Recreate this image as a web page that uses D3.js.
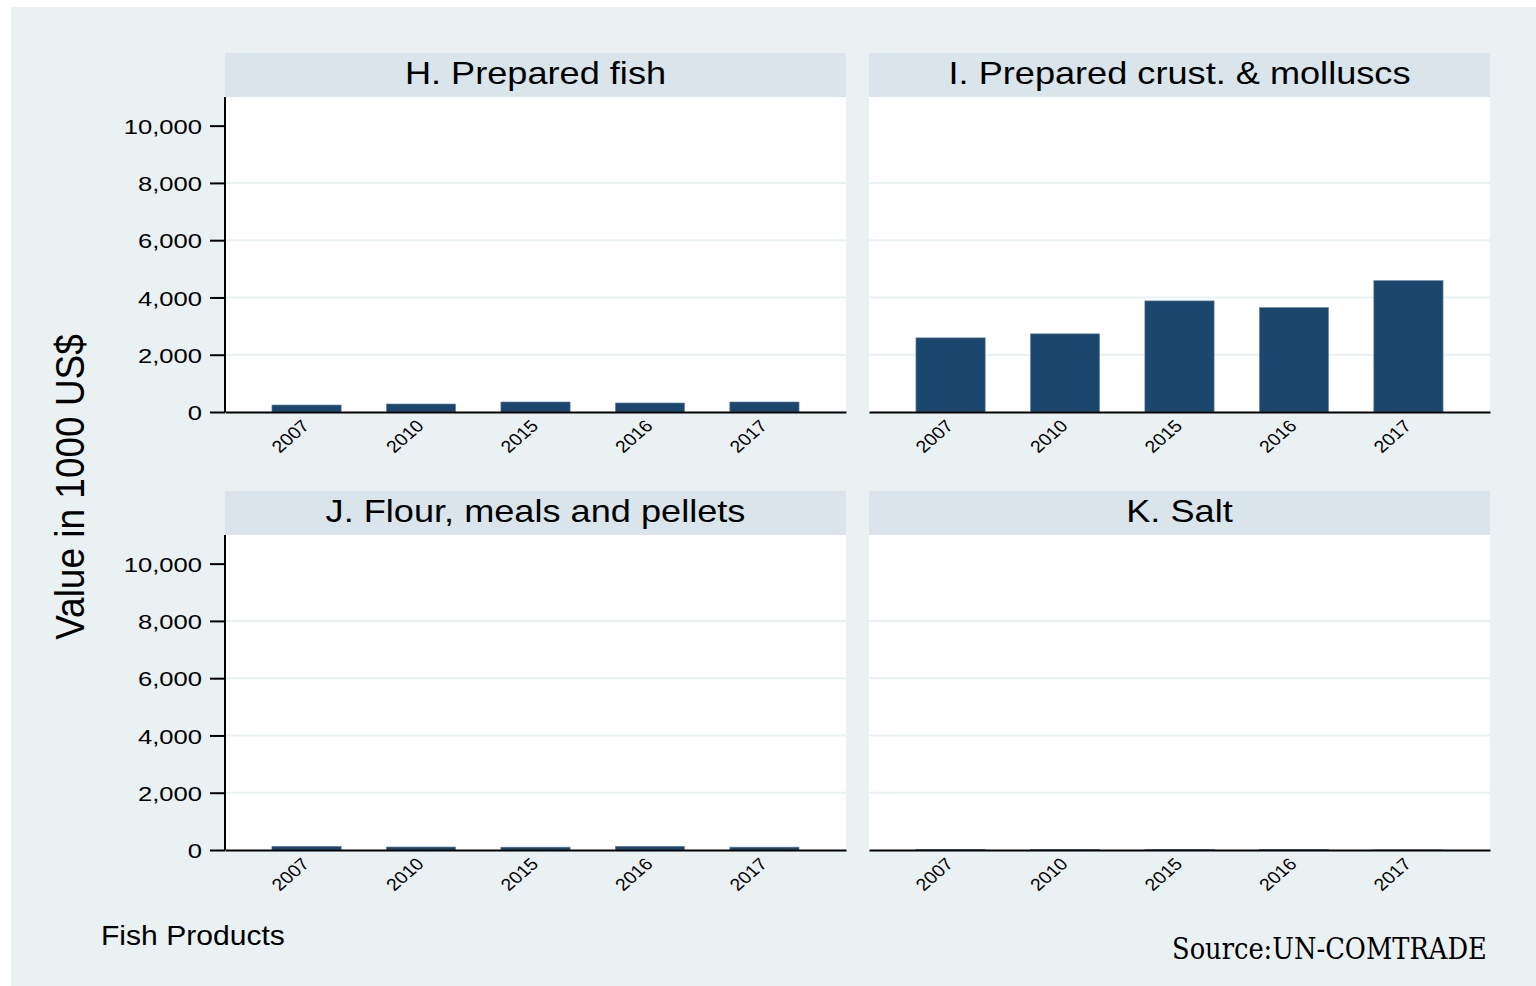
<!DOCTYPE html>
<html><head><meta charset="utf-8">
<script src="https://cdn.jsdelivr.net/npm/d3@7"></script>
<style>html,body{margin:0;padding:0;background:#fff;}svg{display:block;}</style>
</head><body>
<script>
const years = ["2007", "2010", "2015", "2016", "2017"];
const panelTitles = ["H. Prepared fish", "I. Prepared crust. & molluscs", "J. Flour, meals and pellets", "K. Salt"];
const valuesH = [245, 280, 350, 315, 350];
const valuesI = [2590, 2730, 3880, 3650, 4590];
const valuesJ = [130, 105, 100, 130, 100];
const valuesK = [25, 20, 25, 20, 5];
const yTicks = [0, 2000, 4000, 6000, 8000, 10000];
const yTitle = "Value in 1000 US$";
const noteText = "Fish Products";
const sourceText = "Source:UN-COMTRADE";

const panelValues = [valuesH, valuesI, valuesJ, valuesK];

const W = 1536, H = 986;
const svg = d3.select("body").append("svg").attr("width", W).attr("height", H);
svg.append("rect").attr("x", 11).attr("y", 7).attr("width", W - 11).attr("height", H - 7).attr("fill", "#eaf1f3");

const colX = [225, 869], plotW = 621;
const stripTop = [53, 491], stripH = 44, plotH = 315;
const navy = "#1b476f";
const font = "'Liberation Sans', Arial, sans-serif";

const y = d3.scaleLinear().domain([0, 11000]).range([plotH, 0]);
const x = d3.scaleBand().domain(years).range([0, plotW]).paddingInner(0.395).paddingOuter(0.41);

panelValues.forEach((vals, i) => {
  const col = i % 2, row = Math.floor(i / 2);
  const px = colX[col], sy = stripTop[row], py = sy + stripH;
  const g = svg.append("g").attr("transform", `translate(${px},${py})`);
  // strip
  svg.append("rect").attr("x", px).attr("y", sy).attr("width", plotW).attr("height", stripH).attr("fill", "#d9e5eb");
  const cx = px + plotW / 2;
  svg.append("text").attr("x", 0).attr("y", 0).attr("text-anchor", "middle")
    .attr("font-family", font).attr("font-size", 32).attr("fill", "#000")
    .attr("transform", `translate(${cx},${sy + 31}) scale(1.13,1)`)
    .text(panelTitles[i]);
  // plot region
  g.append("rect").attr("width", plotW).attr("height", plotH).attr("fill", "#fff");
  // gridlines
  g.selectAll(".grid").data(yTicks.filter(t => t > 0 && t < 10000)).enter().append("line")
    .attr("x1", 0).attr("x2", plotW).attr("y1", d => y(d)).attr("y2", d => y(d))
    .attr("stroke", "#eaf1f3").attr("stroke-width", 2);
  // bars
  g.selectAll(".bar").data(vals).enter().append("rect")
    .attr("x", (d, j) => x(years[j])).attr("width", x.bandwidth())
    .attr("y", d => y(d)).attr("height", d => plotH - y(d))
    .attr("fill", navy).attr("stroke", "#6d8aa6").attr("stroke-width", 0.6);
  // x axis
  const xa = g.append("g").attr("transform", `translate(0,${plotH})`)
    .call(d3.axisBottom(x).tickSize(0).tickPadding(0));
  xa.select(".domain").attr("stroke", "#000").attr("stroke-width", 2);
  xa.selectAll("text").attr("font-family", font).attr("font-size", 17).attr("fill", "#000")
    .attr("text-anchor", "end").attr("dy", 0).attr("y", 0)
    .attr("transform", "translate(4,15) scale(1.15,1) rotate(-45)");
  // y axis on left column
  if (col === 0) {
    const ya = g.append("g").call(d3.axisLeft(y).tickValues(yTicks).tickSize(15).tickPadding(8)
      .tickFormat(d3.format(",")));
    ya.select(".domain").attr("stroke", "#000").attr("stroke-width", 2).attr("d", `M0,0V${plotH}`);
    ya.selectAll(".tick line").attr("stroke", "#000").attr("stroke-width", 2);
    ya.selectAll(".tick text").attr("font-family", font).attr("font-size", 21).attr("fill", "#000")
      .attr("dy", "0.36em")
      .attr("transform", "translate(-23,0) scale(1.22,1) translate(23,0)");
  }
});

// y title
svg.append("text").attr("x", 0).attr("y", 0)
  .attr("transform", "translate(84,487) scale(1.12,1) rotate(-90)")
  .attr("text-anchor", "middle").attr("font-family", font).attr("font-size", 37).attr("fill", "#000")
  .text(yTitle);

function fitText(sel, x0, y0, target) {
  const len = sel.node().getComputedTextLength();
  sel.attr("transform", `translate(${x0},${y0}) scale(${target / len},1)`);
}
// note
const note = svg.append("text").attr("x", 0).attr("y", 0).attr("font-family", font).attr("font-size", 28).attr("fill", "#000").text(noteText);
fitText(note, 101, 945, 184);

// source
const src = svg.append("text").attr("x", 0).attr("y", 0).attr("font-family", "'DejaVu Serif', 'Liberation Serif', serif")
  .attr("font-size", 30).attr("fill", "#000").text(sourceText);
fitText(src, 1172, 959, 315);
</script>
</body></html>
